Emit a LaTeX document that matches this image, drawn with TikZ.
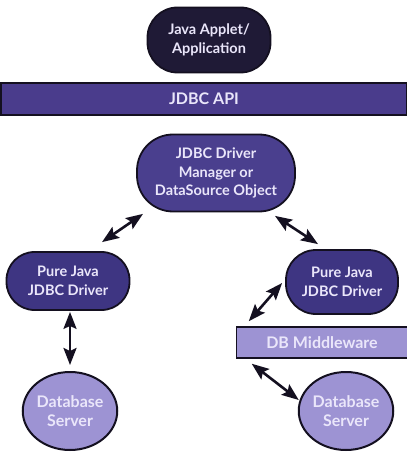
\documentclass[tikz,border=0pt]{standalone}
\usepackage{fontspec}
\setmainfont{Lato}
\usetikzlibrary{arrows.meta,calc,shapes.geometric}
\definecolor{inkdark}{HTML}{1F1A36}
\definecolor{apibar}{HTML}{4A3C8C}
\definecolor{mgrfill}{HTML}{4A3F8E}
\definecolor{drvfill}{HTML}{3E3582}
\definecolor{lightfill}{HTML}{9D93D3}
\definecolor{txtlight}{HTML}{EAE6FA}
\definecolor{edge}{HTML}{141020}
\tikzset{
  lbl/.style={text=txtlight, font=\bfseries\fontsize{14.5}{18.5}\selectfont, align=center, inner sep=0pt},
  biglbl/.style={font=\bfseries\fontsize{16}{19}\selectfont},
  pill/.style={lbl, draw=edge, line width=1.8pt, rounded corners=26pt},
  bar/.style={lbl, biglbl, draw=edge, line width=1.5pt, rectangle},
  dbnode/.style={lbl, biglbl, ellipse, draw=edge, line width=2pt, fill=lightfill},
  link/.style={draw=edge, line width=2.6pt, {Stealth[length=17pt,width=13pt,inset=3pt]}-{Stealth[length=17pt,width=13pt,inset=3pt]}}
}
\begin{document}
\begin{tikzpicture}[x=1pt,y=-1pt]
\useasboundingbox[fill=white] (0,0) rectangle (406,454);

% application layer and API bar
\node[pill, fill=inkdark, minimum width=123pt, minimum height=65pt, rounded corners=30pt] (app) at (209,40) {Java Applet/\\Application};
\node[bar, fill=apibar, minimum width=406pt, minimum height=32pt] (api) at (204,99) {JDBC API};

% driver manager
\node[pill, fill=mgrfill, minimum width=158pt, minimum height=77pt, rounded corners=36pt] (mgr) at (216,173) {JDBC Driver\\Manager or\\DataSource Object};

% drivers
\node[pill, fill=drvfill, minimum width=123pt, minimum height=58pt, rounded corners=28pt] (pj1) at (68,281) {Pure Java\\JDBC Driver};
\node[pill, fill=drvfill, minimum width=112pt, minimum height=64pt, rounded corners=30pt] (pj2) at (342,282) {Pure Java\\JDBC Driver};

% middleware
\node[bar, fill=lightfill, minimum width=171pt, minimum height=31pt] (mw) at (322,342.5) {DB Middleware};

% database servers
\node[dbnode, minimum width=78pt, minimum height=78pt] (db1) at (70,411) {Database\\Server};
\node[dbnode, minimum width=88pt, minimum height=78pt] (db2) at (346,411) {Database\\Server};

% connectors
\draw[link] ($(mgr.south)+(-73,1.5)$) -- ($(pj1.north)+(34,-9)$);
\draw[link] ($(mgr.south)+(59,3.5)$) -- ($(pj2.north)+(-24,-5)$);
\draw[link] ($(pj1.south)+(2,1)$) -- ($(db1.north)+(0,-6)$);
\draw[link] ($(pj2.west)+(-3,1)$) -- ($(mw.north west)+(13,-5)$);
\draw[link] ($(mw.south west)+(16,5)$) -- ($(db2.west)+(1,-11)$);
\end{tikzpicture}
\end{document}
